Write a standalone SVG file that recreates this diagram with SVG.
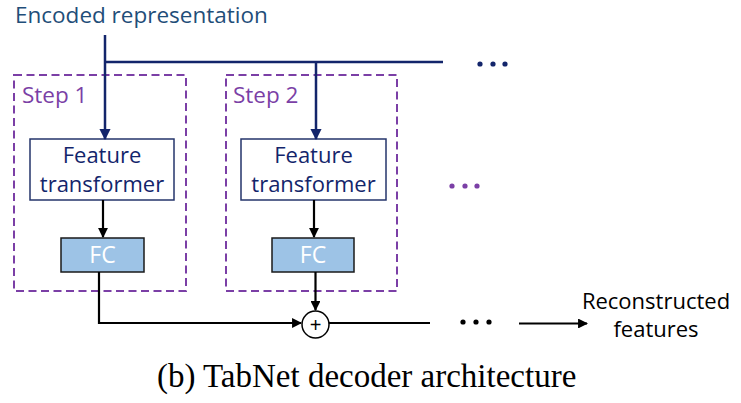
<svg xmlns="http://www.w3.org/2000/svg" width="741" height="403" viewBox="0 0 741 403">
<defs>
<style>
.sans{font-family:"Open Sans",Lato,"Liberation Sans",sans-serif;}
.step{fill:none;stroke:#7b3fa6;stroke-width:2;stroke-dasharray:8,4.5;}
.ft{fill:#fff;stroke:#24356b;stroke-width:1.5;}
.fc{fill:#9dc3e6;stroke:#1a1a1a;stroke-width:1.5;}
.navy{stroke:#13256b;stroke-width:2.5;fill:none;}
.blk{stroke:#000;stroke-width:2.2;fill:none;}
.ftt{font-size:22px;fill:#13256b;text-anchor:middle;}
.fct{font-size:23px;fill:#fff;text-anchor:middle;}
.stept{font-size:22.5px;fill:#7b3fa6;}
</style>
<marker id="an" viewBox="0 0 10 10" refX="9" refY="5" markerWidth="4.5" markerHeight="4.5" orient="auto" markerUnits="strokeWidth"><path d="M0,0 L10,5 L0,10 z" fill="#13256b"/></marker>
<marker id="ab" viewBox="0 0 10 10" refX="9" refY="5" markerWidth="4.5" markerHeight="4.5" orient="auto" markerUnits="strokeWidth"><path d="M0,0 L10,5 L0,10 z" fill="#000"/></marker>
</defs>
<rect width="741" height="403" fill="#fff"/>
<text class="sans" x="15" y="23" font-size="22.5" fill="#1f4e79">Encoded representation</text>
<g id="step1">
<rect class="step" x="14" y="75" width="172" height="216"/>
<text class="sans stept" x="22" y="103">Step 1</text>
</g>
<g id="step2">
<rect class="step" x="226" y="75" width="171" height="216"/>
<text class="sans stept" x="233" y="103">Step 2</text>
</g>
<g id="ft1">
<rect class="ft" x="30" y="139" width="144" height="61"/>
<text class="sans ftt" x="102" y="163">Feature</text>
<text class="sans ftt" x="102" y="192">transformer</text>
</g>
<g id="ft2">
<rect class="ft" x="241" y="139" width="145" height="61"/>
<text class="sans ftt" x="313.5" y="163">Feature</text>
<text class="sans ftt" x="313.5" y="192">transformer</text>
</g>
<g id="fc1">
<rect class="fc" x="61" y="238" width="83" height="34"/>
<text class="sans fct" x="102.5" y="263">FC</text>
</g>
<g id="fc2">
<rect class="fc" x="272" y="238" width="82" height="34"/>
<text class="sans fct" x="313" y="263">FC</text>
</g>
<g id="sum">
<circle cx="315.5" cy="324.5" r="13.5" fill="#fff" stroke="#000" stroke-width="1.5"/>
<text x="315.5" y="331.5" font-family="Liberation Sans,sans-serif" font-size="20" text-anchor="middle" fill="#000">+</text>
</g>
<g id="dots">
<g fill="#13256b"><circle cx="480" cy="64" r="2.6"/><circle cx="493" cy="64" r="2.6"/><circle cx="505" cy="64" r="2.6"/></g>
<g fill="#7b3fa6"><circle cx="452" cy="186" r="2.6"/><circle cx="465" cy="186" r="2.6"/><circle cx="477" cy="186" r="2.6"/></g>
<g fill="#000"><circle cx="463" cy="322" r="2.6"/><circle cx="476" cy="322" r="2.6"/><circle cx="489" cy="322" r="2.6"/></g>
</g>
<g id="connectors">
<path class="navy" d="M105,35 V139" marker-end="url(#an)"/>
<path class="navy" d="M105,62 H443"/>
<path class="navy" d="M316,62 V139" marker-end="url(#an)"/>
<path class="blk" d="M103,200 V237" marker-end="url(#ab)"/>
<path class="blk" d="M314,200 V237" marker-end="url(#ab)"/>
<path class="blk" d="M99,272 V323 H301" marker-end="url(#ab)"/>
<path class="blk" d="M315.5,272 V310" marker-end="url(#ab)"/>
<path class="blk" d="M329,323 H430"/>
<path class="blk" d="M519,323.5 H587" marker-end="url(#ab)"/>
</g>
<text class="sans" x="656" y="309" font-size="22" text-anchor="middle" fill="#000">Reconstructed</text>
<text class="sans" x="656" y="337" font-size="22" text-anchor="middle" fill="#000">features</text>
<g font-family="Liberation Serif,serif" fill="#000" font-size="33">
<text x="157" y="387">(b)</text>
<text x="203" y="387">TabNet decoder architecture</text>
</g>
</svg>
